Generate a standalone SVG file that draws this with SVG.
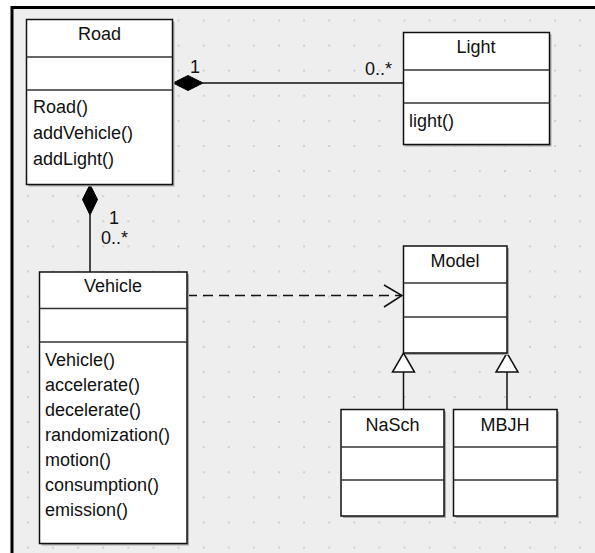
<svg xmlns="http://www.w3.org/2000/svg" width="595" height="553" viewBox="0 0 595 553">
<style>
.box{fill:#fff;stroke:#111;stroke-width:1.5}
.sh{fill:#a8a8a8}
.div{stroke:#333;stroke-width:1.5}
.t{font-family:"Liberation Sans",Arial,sans-serif;font-size:18px;fill:#111}
.c{text-anchor:middle}
.ln{stroke:#111;stroke-width:1.5;fill:none}
</style>
<defs>
<pattern id="grid" patternUnits="userSpaceOnUse" x="27" y="19.5" width="25.1" height="25.1">
<rect x="0" y="0" width="2" height="2" fill="#cfcfcf"/>
</pattern>
</defs>
<rect x="0" y="0" width="595" height="553" fill="#fff"/>
<rect x="12" y="7" width="583" height="546" fill="#eeeeee"/>
<rect x="12" y="7" width="583" height="546" fill="url(#grid)"/>
<path d="M12 553 V7.5 H595" fill="none" stroke="#000" stroke-width="3"/>

<g id="connectors">
<line class="ln" x1="203" y1="83" x2="403" y2="83"/>
<polygon points="173,83 188,75.5 203,83 188,90.5" fill="#000" stroke="#000"/>
<line class="ln" x1="90" y1="215" x2="90" y2="272"/>
<polygon points="90,184.5 97.5,199.5 90,215 82.5,199.5" fill="#000" stroke="#000"/>
<line class="ln" x1="187" y1="295.5" x2="401" y2="295.5" stroke-dasharray="10,6"/>
<polyline class="ln" points="384,285 402,295.5 384,307"/>
<line class="ln" x1="403.5" y1="372" x2="403.5" y2="409"/>
<polygon points="403.5,353 414.5,372 392.5,372" fill="#fff" stroke="#111" stroke-width="1.5"/>
<line class="ln" x1="507" y1="372" x2="507" y2="409"/>
<polygon points="507,353 518,372 496,372" fill="#fff" stroke="#111" stroke-width="1.5"/>
<text class="t" x="190" y="73">1</text>
<text class="t" x="365" y="75">0..*</text>
<text class="t" x="109" y="224">1</text>
<text class="t" x="101" y="244">0..*</text>
</g>

<g id="Road">
<rect class="sh" x="28.5" y="21.5" width="146" height="165"/>
<rect class="box" x="26.5" y="19.5" width="146" height="165"/>
<line class="div" x1="26.5" y1="57" x2="172.5" y2="57"/>
<line class="div" x1="26.5" y1="90" x2="172.5" y2="90"/>
<text class="t c" x="99.5" y="40">Road</text>
<text class="t" x="33" y="113">Road()</text>
<text class="t" x="33" y="139">addVehicle()</text>
<text class="t" x="33" y="165">addLight()</text>
</g>

<g id="Light">
<rect class="sh" x="405.5" y="34.5" width="146" height="112"/>
<rect class="box" x="403.5" y="32.5" width="146" height="112"/>
<line class="div" x1="403.5" y1="70" x2="549.5" y2="70"/>
<line class="div" x1="403.5" y1="103" x2="549.5" y2="103"/>
<text class="t c" x="476" y="53">Light</text>
<text class="t" x="409" y="127">light()</text>
</g>

<g id="Vehicle">
<rect class="sh" x="41.5" y="274" width="147.5" height="271.5"/>
<rect class="box" x="39.5" y="272" width="147.5" height="271.5"/>
<line class="div" x1="39.5" y1="308.5" x2="187" y2="308.5"/>
<line class="div" x1="39.5" y1="342" x2="187" y2="342"/>
<text class="t c" x="113" y="292">Vehicle</text>
<text class="t" x="45" y="366">Vehicle()</text>
<text class="t" x="45" y="391">accelerate()</text>
<text class="t" x="45" y="416">decelerate()</text>
<text class="t" x="45" y="441">randomization()</text>
<text class="t" x="45" y="466">motion()</text>
<text class="t" x="45" y="491">consumption()</text>
<text class="t" x="45" y="516">emission()</text>
</g>

<g id="Model">
<rect class="sh" x="405.5" y="248" width="103.5" height="107"/>
<rect class="box" x="403.5" y="246" width="103.5" height="107"/>
<line class="div" x1="403.5" y1="283" x2="507" y2="283"/>
<line class="div" x1="403.5" y1="317" x2="507" y2="317"/>
<text class="t c" x="455" y="267">Model</text>
</g>

<g id="NaSch">
<rect class="sh" x="343" y="411.5" width="103" height="106.5"/>
<rect class="box" x="341" y="409.5" width="103" height="106.5"/>
<line class="div" x1="341" y1="447" x2="444" y2="447"/>
<line class="div" x1="341" y1="480" x2="444" y2="480"/>
<text class="t c" x="392.5" y="431">NaSch</text>
</g>

<g id="MBJH">
<rect class="sh" x="455.5" y="411.5" width="103.5" height="106.5"/>
<rect class="box" x="453.5" y="409.5" width="103.5" height="106.5"/>
<line class="div" x1="453.5" y1="447" x2="557" y2="447"/>
<line class="div" x1="453.5" y1="480" x2="557" y2="480"/>
<text class="t c" x="505" y="431">MBJH</text>
</g>
</svg>
